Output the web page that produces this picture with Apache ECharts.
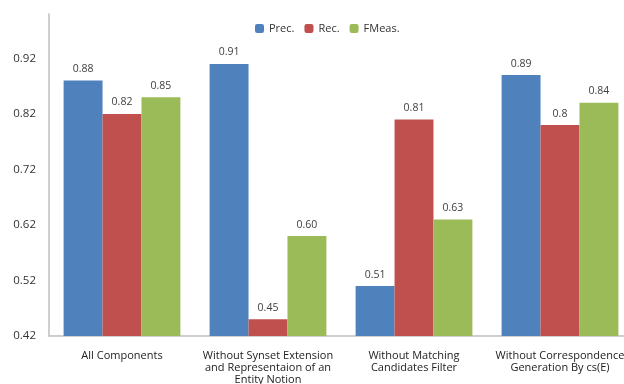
<!DOCTYPE html>
<html><head><meta charset="utf-8">
<script src="https://cdn.jsdelivr.net/npm/echarts@6/dist/echarts.min.js"></script>
<style>html,body{margin:0;padding:0;background:#fff}#c{width:624px;height:384px}</style>
</head><body><div id="c"></div>
<script>
const categories = ['All Components', 'Without Synset Extension\nand Representaion of an\nEntity Notion', 'Without Matching\nCandidates Filter', 'Without Correspondence\nGeneration By cs(E)'];
const prec = [0.88, 0.91, 0.51, 0.89];
const rec = [0.82, 0.45, 0.81, 0.80];
const fmeas = [0.85, 0.60, 0.63, 0.84];
const precLabels = ['0.88', '0.91', '0.51', '0.89'];
const recLabels = ['0.82', '0.45', '0.81', '0.8'];
const fmeasLabels = ['0.85', '0.60', '0.63', '0.84'];
const yTicks = ['0.42', '0.52', '0.62', '0.72', '0.82', '0.92'];

const font = 'Open Sans, DejaVu Sans, sans-serif';
function mk(name, data, labels, color) {
  return {
    name, type: 'bar', data, barGap: '0%', barCategoryGap: '20%',
    itemStyle: { color },
    label: { show: true, position: 'top', distance: 6, fontSize: 10.5, fontFamily: font, color: '#404040',
      formatter: p => labels[p.dataIndex] }
  };
}
const chart = echarts.init(document.getElementById('c'));
chart.setOption({
  animation: false,
  legend: { top: 18, left: 250, itemWidth: 9, itemHeight: 9, itemGap: 10,
    textStyle: { fontSize: 11, fontFamily: font, color: '#333' },
    data: ['Prec.', 'Rec.', 'FMeas.'] },
  grid: { left: 49, top: 14, width: 584, height: 322, containLabel: false, outerBoundsMode: 'none' },
  xAxis: { type: 'category', data: categories,
    axisLine: { lineStyle: { color: '#bfbfbf', width: 1.5 } },
    axisTick: { show: false },
    axisLabel: { fontSize: 11, fontFamily: font, color: '#222', lineHeight: 12, margin: 14, interval: 0 } },
  yAxis: { type: 'value', min: 0.42, max: 1.0, interval: 0.1,
    splitLine: { show: false },
    axisLine: { show: true, lineStyle: { color: '#bfbfbf', width: 1.5 } },
    axisTick: { show: false },
    axisLabel: { fontSize: 11.5, fontFamily: font, color: '#333', margin: 13, showMaxLabel: false,
      formatter: v => { const i = Math.round((v - 0.42) / 0.1); return (i >= 0 && i < yTicks.length) ? yTicks[i] : ''; } } },
  series: [
    mk('Prec.', prec, precLabels, '#4F81BD'),
    mk('Rec.', rec, recLabels, '#C0504D'),
    mk('FMeas.', fmeas, fmeasLabels, '#9BBB59')
  ]
});
</script></body></html>
